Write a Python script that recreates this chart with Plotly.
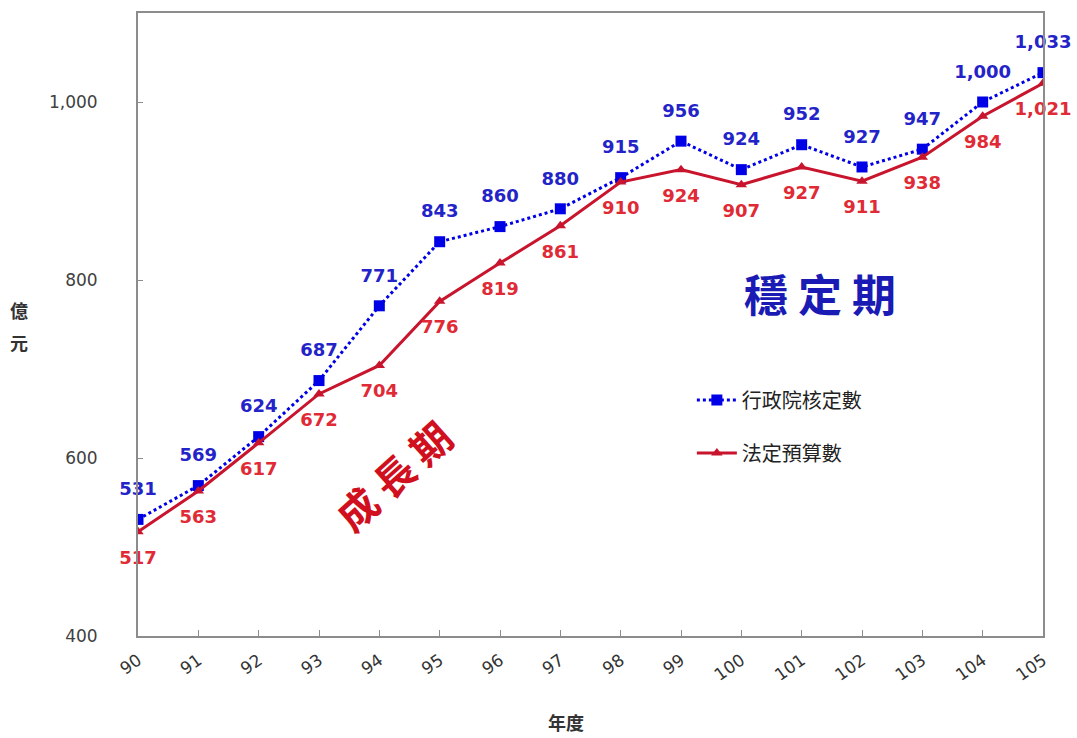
import plotly.graph_objects as go

years = [90, 91, 92, 93, 94, 95, 96, 97, 98, 99, 100, 101, 102, 103, 104, 105]
approved = [531, 569, 624, 687, 771, 843, 860, 880, 915, 956, 924, 952, 927, 947, 1000, 1033]
legal = [517, 563, 617, 672, 704, 776, 819, 861, 910, 924, 907, 927, 911, 938, 984, 1021]
y_ticks = [400, 600, 800, 1000]

BLUE = "#0000E6"
BLUE_TXT = "#2323C8"
RED = "#C8142D"
RED_TXT = "#E02A35"
LABEL_FONT = "DejaVu Sans"
CJK = "Noto Sans CJK TC"

fig = go.Figure()

fig.add_trace(go.Scatter(
    x=years, y=approved, name="行政院核定數", mode="lines+markers",
    line=dict(color=BLUE, width=3, dash="dot"),
    marker=dict(symbol="square", size=11, color=BLUE),
    legendgroup="a",
))
fig.add_trace(go.Scatter(
    x=years, y=legal, name="法定預算數", mode="lines+markers",
    line=dict(color=RED, width=3),
    marker=dict(symbol="triangle-up", size=10, color=RED),
    legendgroup="b",
))
# data labels (transparent large markers push the text away from the points)
fig.add_trace(go.Scatter(
    x=years, y=approved, mode="markers+text", showlegend=False, hoverinfo="skip",
    marker=dict(size=30, opacity=0),
    texttemplate="%{y:,}", textposition="top center", cliponaxis=False,
    textfont=dict(family=LABEL_FONT, size=18, color=BLUE_TXT, weight="bold"),
))
fig.add_trace(go.Scatter(
    x=years, y=legal, mode="markers+text", showlegend=False, hoverinfo="skip",
    marker=dict(size=28, opacity=0),
    texttemplate="%{y:,}", textposition="bottom center", cliponaxis=False,
    textfont=dict(family=LABEL_FONT, size=18, color=RED_TXT, weight="bold"),
))

fig.update_layout(
    width=1077, height=738,
    margin=dict(l=138, r=34, t=13, b=102),
    paper_bgcolor="white", plot_bgcolor="white",
    showlegend=True,
    legend=dict(x=0.612, y=0.41, xanchor="left", yanchor="top",
                font=dict(family=CJK, size=20, color="#222222"),
                tracegroupgap=24, bgcolor="rgba(0,0,0,0)", itemwidth=40),
    xaxis=dict(range=[90, 105], tickmode="array", tickvals=years,
               ticktext=[str(y) for y in years], tickangle=-35,
               showline=True, linecolor="#8C8C8C", linewidth=2, mirror=True,
               ticks="inside", ticklen=6, tickcolor="#8C8C8C", showgrid=False,
               zeroline=False, ticklabelstandoff=6,
               tickfont=dict(family="DejaVu Sans", size=17, color="#333333")),
    yaxis=dict(range=[400, 1100], tickmode="array", tickvals=y_ticks,
               ticktext=[f"{v:,}" for v in y_ticks],
               showline=True, linecolor="#8C8C8C", linewidth=2, mirror=True,
               ticks="inside", ticklen=5, tickcolor="#8C8C8C", showgrid=False,
               zeroline=False, ticklabelstandoff=35,
               tickfont=dict(family="DejaVu Sans", size=17, color="#404040")),
    annotations=[
        dict(text="<b>億</b>", xref="paper", yref="paper",
             x=-0.131, y=0.523, xanchor="center", yanchor="middle", showarrow=False,
             font=dict(family=CJK, size=18, color="#333333")),
        dict(text="<b>元</b>", xref="paper", yref="paper",
             x=-0.131, y=0.472, xanchor="center", yanchor="middle", showarrow=False,
             font=dict(family=CJK, size=18, color="#333333")),
        dict(text="<b>年度</b>", xref="paper", yref="paper",
             x=0.473, y=-0.138, xanchor="center", yanchor="middle", showarrow=False,
             font=dict(family=CJK, size=18, color="#333333")),
        dict(text="<b>穩 定 期</b>", x=101.3, y=785, xref="x", yref="y",
             showarrow=False, font=dict(family=CJK, size=44, color="#1A1AB4")),
        dict(text="<b>成 長 期</b>", x=94.23, y=581, xref="x", yref="y",
             showarrow=False, textangle=-42,
             font=dict(family=CJK, size=40, color="#D0101E")),
    ],
)

fig.write_html("out.html")
